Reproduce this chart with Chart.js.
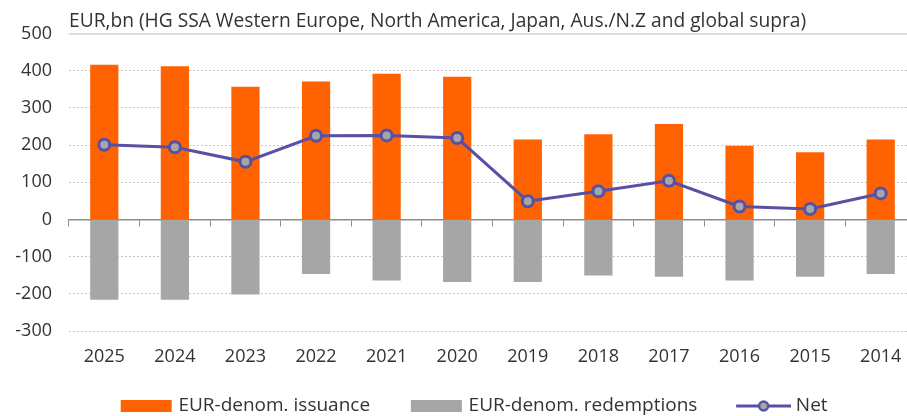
<!DOCTYPE html>
<html>
<head>
<meta charset="utf-8">
<script src="https://cdn.jsdelivr.net/npm/chart.js"></script>
<style>
  html, body { margin: 0; padding: 0; background: #fff; overflow: hidden; }
  #wrap { width: 916px; height: 416px; position: relative; }
</style>
</head>
<body>
<div id="wrap"><canvas id="c"></canvas></div>
<script>
const categories = ['2025','2024','2023','2022','2021','2020','2019','2018','2017','2016','2015','2014'];
const issuance = [416, 412, 357, 371, 392, 384, 215, 229, 257, 198, 181, 215];
const redemptions = [-216, -216, -202, -147, -164, -168, -168, -151, -154, -164, -154, -147];
const net = [201, 194, 155, 225, 226, 219, 49, 76, 104, 35, 28, 70];
const seriesNames = ['EUR-denom. issuance', 'EUR-denom. redemptions', 'Net'];
const titleText = 'EUR,bn (HG SSA Western Europe, North America, Japan, Aus./N.Z and global supra)';

const ORANGE = '#FF6200';
const GREY = '#A6A6A6';
const PURPLE = '#5751A6';
const MARKER = '#A6A6A6';
const TEXT = '#333333';
const FONT = 'Open Sans';

// legend swatches (90 px wide images, centred on the legend box)
function makeSwatch(draw) {
  const c = document.createElement('canvas');
  c.width = 90; c.height = 14;
  draw(c.getContext('2d'));
  return c;
}
const swatches = [
  makeSwatch(g => { g.fillStyle = ORANGE; g.fillRect(37, 1, 51, 12); }),
  makeSwatch(g => { g.fillStyle = GREY; g.fillRect(37, 1, 51, 12); }),
  makeSwatch(g => {
    g.strokeStyle = PURPLE; g.lineWidth = 3;
    g.beginPath(); g.moveTo(35, 7); g.lineTo(90, 7); g.stroke();
    g.beginPath(); g.arc(62.5, 7, 4.5, 0, Math.PI * 2);
    g.fillStyle = MARKER; g.fill();
    g.lineWidth = 2.5; g.stroke();
  })
];

new Chart(document.getElementById('c'), {
  type: 'bar',
  data: {
    labels: categories,
    datasets: [
      { label: seriesNames[0], data: issuance, backgroundColor: ORANGE, borderWidth: 0,
        grouped: false, barPercentage: 0.4, categoryPercentage: 1, order: 1 },
      { label: seriesNames[1], data: redemptions, backgroundColor: GREY, borderWidth: 0,
        grouped: false, barPercentage: 0.4, categoryPercentage: 1, order: 1 },
      { type: 'line', label: seriesNames[2], data: net, borderColor: PURPLE, borderWidth: 3,
        backgroundColor: MARKER, pointBackgroundColor: MARKER, pointBorderColor: PURPLE,
        pointBorderWidth: 3, pointRadius: 5.5, tension: 0, fill: false, order: 0 }
    ]
  },
  options: {
    responsive: true,
    maintainAspectRatio: false,
    animation: false,
    devicePixelRatio: 1,
    layout: { autoPadding: false, padding: { left: 0, right: 0, top: 0, bottom: -9.5 } },
    plugins: {
      tooltip: { enabled: false },
      title: {
        display: true, text: titleText, align: 'start', fullSize: false,
        color: TEXT, font: { family: FONT, size: 19.2, weight: 'normal' }, padding: { top: 10.5, bottom: 0 }
      },
      legend: {
        position: 'bottom',
        labels: {
          color: TEXT, font: { family: FONT, size: 19 },
          usePointStyle: true, pointStyleWidth: 80.5, boxHeight: 12, padding: 8.5,
          generateLabels: function (chart) {
            const items = Chart.defaults.plugins.legend.labels.generateLabels(chart);
            items.sort((a, b) => a.datasetIndex - b.datasetIndex);
            items.forEach(it => { it.pointStyle = swatches[it.datasetIndex]; it.lineWidth = 0; });
            return items;
          }
        }
      }
    },
    scales: {
      x: {
        grid: { display: false, drawTicks: true, tickLength: -5 }, border: { display: false },
        ticks: { color: TEXT, font: { family: FONT, size: 18, lineHeight: 40 / 18 }, padding: 11 }
      },
      x2: {
        axis: 'x', type: 'category', position: { y: 0 }, offset: true,
        grid: { offset: true, drawOnChartArea: false, drawTicks: true, tickLength: 6, color: '#8c8c8c', tickWidth: 1 },
        border: { display: true, color: '#8c8c8c', width: 1.5 },
        ticks: { display: false }
      },
      y: {
        min: -300, max: 500,
        ticks: { stepSize: 100, color: TEXT, font: { family: FONT, size: 18 }, padding: 17 },
        afterFit: s => { s.width = 69; },
        grid: {
          drawTicks: false,
          color: ctx => ctx.tick.value === 0 ? 'transparent' : (ctx.tick.value === 500 ? '#dddddd' : '#c6c6cc'),
          lineWidth: ctx => ctx.tick.value === 500 ? 2 : 1
        },
        border: { display: false, dash: ctx => ctx.tick && ctx.tick.value === 500 ? [] : [2, 2] }
      }
    }
  }
});
</script>
</body>
</html>
